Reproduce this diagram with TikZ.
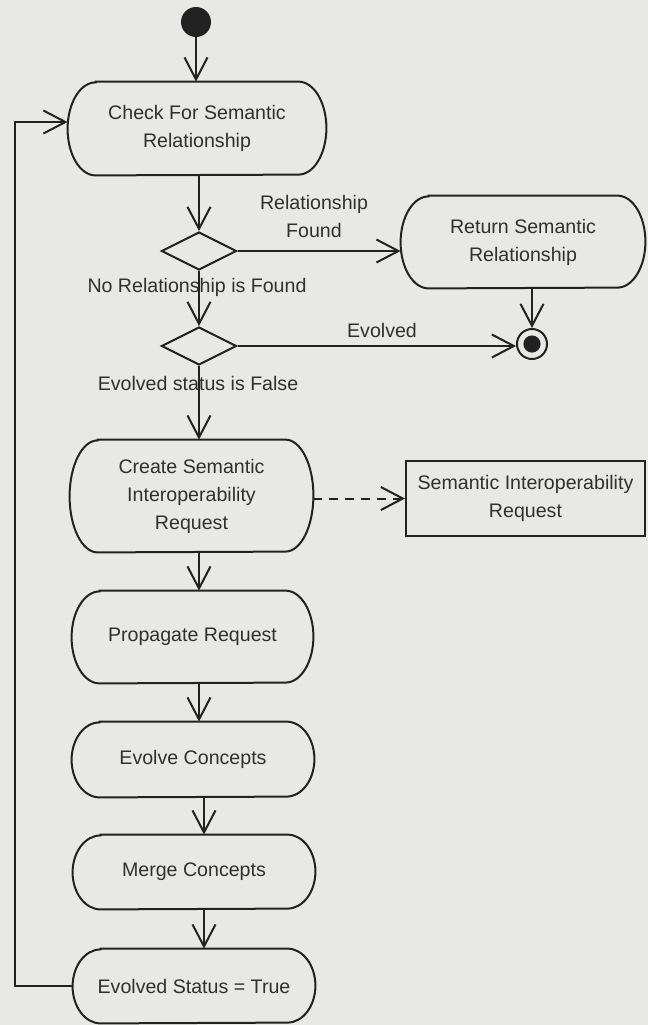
\documentclass[tikz,border=0pt]{standalone}
\usepackage{fontspec}
\setmainfont{Liberation Sans}
\usetikzlibrary{arrows.meta,shapes.geometric}

\definecolor{paper}{RGB}{232,232,230}
\definecolor{ink}{RGB}{34,34,34}
\definecolor{txt}{RGB}{48,48,48}

% outline of an activity state: flat top and bottom, half-elliptic ends
\newcommand\actoutline[2]{%
  \draw[edge] ([xshift=14pt]#1.north west) -- ([xshift=-14pt]#1.north east)
    arc[start angle=90,end angle=-90,x radius=14pt,y radius=#2]
    -- ([xshift=14pt]#1.south west)
    arc[start angle=270,end angle=90,x radius=14pt,y radius=#2] -- cycle;}

\tikzset{
  edge/.style={draw=ink, line width=1pt},
  flow/.style={edge, -{Straight Barb[length=11pt,width=11.5pt,line width=1pt]}},
  dep/.style={flow, dash pattern=on 4.5pt off 3.5pt},
  lbl/.style={text=txt, font=\fontsize{9.8pt}{14pt}\selectfont, align=center, inner sep=0pt},
  act/.style={lbl, rectangle, minimum width=121pt},
  choice/.style={diamond, edge, minimum width=37.5pt, minimum height=19pt, inner sep=0pt, aspect=2},
}

\begin{document}
\begin{tikzpicture}[x=0.5pt,y=-0.5pt]
  \useasboundingbox (0,0) rectangle (648,1025);
  \fill[paper] (0,0) rectangle (648,1025);

  % states
  \node[circle, fill=ink, minimum size=15pt, inner sep=0pt] (start) at (196,22) {};
  \node[act, minimum width=129pt, minimum height=46.5pt] (check) at (197,128.5) {Check For Semantic\\Relationship};
  \node[choice] (d1) at (199,251) {};
  \node[choice] (d2) at (199,346) {};
  \node[act, minimum width=122pt, minimum height=46pt] (ret) at (523,242) {Return Semantic\\Relationship};
  \node[circle, edge, minimum size=15pt, inner sep=0pt] (final) at (532,344) {};
  \fill[ink] (final.center) circle (4.3pt);
  \node[act, minimum width=121.5pt, minimum height=56pt] (create) at (191.5,496) {Create Semantic\\Interoperability\\Request};
  \node[lbl, rectangle, draw=ink, line width=1pt, minimum width=119.5pt, minimum height=37.5pt] (req) at (525.5,498.5) {Semantic Interoperability\\Request};
  \node[act, minimum width=120.5pt, minimum height=46pt] (prop) at (192.5,637) {Propagate Request};
  \node[act, minimum height=37.5pt] (evolve) at (193,759.5) {Evolve Concepts};
  \node[act, minimum height=37pt] (merge) at (194,872) {Merge Concepts};
  \node[act, minimum height=37pt] (evst) at (194,986) {Evolved Status = True};

  \actoutline{check}{23.25pt}
  \actoutline{ret}{23pt}
  \actoutline{create}{28pt}
  \actoutline{prop}{23pt}
  \actoutline{evolve}{18.75pt}
  \actoutline{merge}{18.5pt}
  \actoutline{evst}{18.5pt}

  % guard labels
  \node[lbl] (lfound) at (314,216.5) {Relationship\\Found};
  \node[lbl] (lnone) at (197,287) {No Relationship is Found};
  \node[lbl] (levolved) at (382,330) {Evolved};
  \node[lbl] (lfalse) at (198,383) {Evolved status is False};

  % main column axes
  \coordinate (ax) at (199,0);
  \coordinate (bx) at (204,0);
  \coordinate (loop) at (15,122);

  % transitions
  \draw[flow] (start.south) -- (start.south |- check.north);
  \draw[flow] (check.south -| ax) -- (d1.north);
  \draw[flow] (d1.east) -- (d1.east -| ret.west);
  \draw[flow] (d1.south) -- (d2.north);
  \draw[flow] (d2.east) -- (d2.east -| final.west);
  \draw[flow] (ret.south -| final) -- (final.north);
  \draw[flow] (d2.south) -- (create.north -| ax);
  \draw[dep] (create.east |- req.west) -- (req.west);
  \draw[flow] (create.south -| ax) -- (prop.north -| ax);
  \draw[flow] (prop.south -| ax) -- (evolve.north -| ax);
  \draw[flow] (evolve.south -| bx) -- (merge.north -| bx);
  \draw[flow] (merge.south -| bx) -- (evst.north -| bx);
  \draw[flow] (evst.west) -| (loop) -- (loop -| check.west);
\end{tikzpicture}
\end{document}
